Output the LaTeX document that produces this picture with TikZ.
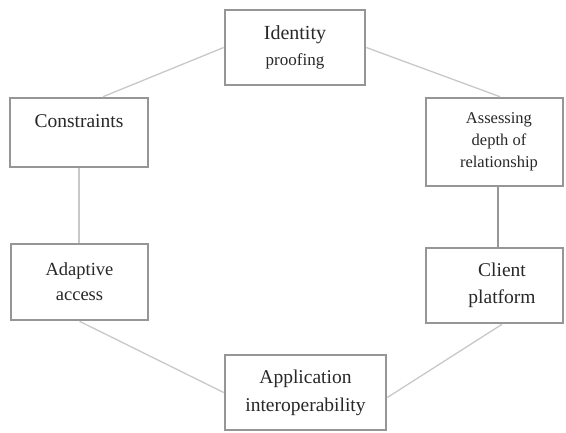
\documentclass[tikz,border=0pt]{standalone}
\usepackage{fontspec}
\setmainfont{Liberation Serif}
\definecolor{boxgray}{RGB}{150,150,150}
\definecolor{linkgray}{RGB}{200,200,200}
\definecolor{txt}{RGB}{40,40,40}
\begin{document}
\begin{tikzpicture}[x=1pt,y=-1pt,
  stepbox/.style={draw=boxgray,line width=2.6pt,fill=white,inner sep=0pt,align=center,text=txt},
  link/.style={draw=linkgray,line width=1.3pt},
  darklink/.style={draw=boxgray,line width=1.8pt}]
\useasboundingbox (0,0) rectangle (566,432);
\node[stepbox,minimum width=140pt,minimum height=75pt,font=\fontsize{20}{26}\selectfont] (id) at (295,47.5)
  {Identity\\\fontsize{17}{20}\selectfont proofing};
\node[stepbox,minimum width=138pt,minimum height=69pt,text height=14pt,text depth=25pt,font=\fontsize{19.5}{24}\selectfont] (con) at (79,132.5)
  {Constraints};
\node[stepbox,minimum width=137pt,minimum height=88pt,font=\fontsize{16.5}{22}\selectfont] (ass) at (494.5,142)
  {\hspace*{9pt}Assessing\\\hspace*{9pt}depth of\\\hspace*{9pt}relationship};
\node[stepbox,minimum width=137pt,minimum height=76pt,font=\fontsize{18.5}{25}\selectfont] (ada) at (79.5,282)
  {Adaptive\\access};
\node[stepbox,minimum width=137pt,minimum height=75pt,font=\fontsize{19.5}{27}\selectfont] (cli) at (494.5,285.5)
  {\hspace*{15pt}Client\\\hspace*{15pt}platform};
\node[stepbox,minimum width=161pt,minimum height=75pt,font=\fontsize{19.5}{28}\selectfont] (app) at (305.5,392.5)
  {Application\\interoperability};
\draw[link] (id.west) -- ([xshift=24pt]con.north);
\draw[link] (id.east) -- ([xshift=5.5pt]ass.north);
\draw[link] (con.south) -- (con.south |- ada.north);
\draw[darklink] ([xshift=3.5pt]ass.south) -- ([xshift=3.5pt]ass.south |- cli.north);
\draw[link] (ada.south) -- (app.west);
\draw[link] ([xshift=7.5pt]cli.south) -- ([yshift=-5pt]app.east);
\end{tikzpicture}
\end{document}
